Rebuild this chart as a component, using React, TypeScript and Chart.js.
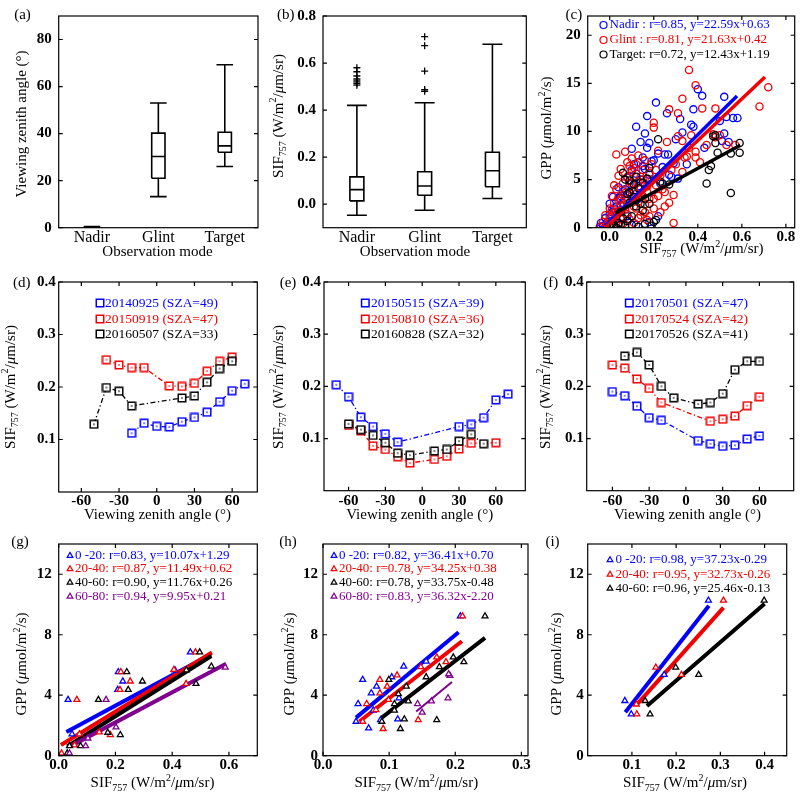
import React, { useEffect, useRef } from "react";
import { Chart, registerables } from "chart.js";
Chart.register(...registerables);

const FONT = "'Liberation Serif', 'Times New Roman', serif";
const BLUE = "#0000ff";
const RED = "#f00000";
const BLACK = "#000000";
const PURPLE = "#80008f";

// ---------------- (a) viewing zenith angle by observation mode ----------------
const modeCategories = ["Nadir", "Glint", "Target"];
const vzaTicks = [0, 20, 40, 60, 80];
const vzaMin = [0, 13.2, 26];
const vzaQ1 = [0.05, 21, 32.1];
const vzaMedian = [0.2, 30.3, 34.8];
const vzaQ3 = [0.4, 40.2, 40.6];
const vzaMax = [0.5, 53, 69.3];

// ---------------- (b) SIF by observation mode ----------------
const sifTicksB = [0, 0.2, 0.4, 0.6, 0.8];
const sifMin = [-0.047, -0.026, 0.024];
const sifQ1 = [0.014, 0.038, 0.074];
const sifMedian = [0.062, 0.077, 0.142];
const sifQ3 = [0.116, 0.138, 0.221];
const sifMax = [0.42, 0.431, 0.68];
const sifOutliersNadir = [0.506, 0.513, 0.52, 0.527, 0.533, 0.545, 0.563, 0.58];
const sifOutliersGlint = [0.48, 0.487, 0.566, 0.674, 0.712];

// ---------------- (c) GPP vs SIF ----------------
const cLegend = [
  "Nadir : r=0.85, y=22.59x+0.63",
  "Glint : r=0.81, y=21.63x+0.42",
  "Target: r=0.72, y=12.43x+1.19",
];
const cNadirPts = [
  [-0.045, 0.1], [-0.04, 0.5], [-0.03, 0.2], [-0.02, 1.0], [-0.01, 0.6], [0.0, 2.5], [0.01, 1.6], [0.015, 3.2],
  [0.02, 0.8], [0.03, 2.2], [0.04, 3.1], [0.045, 1.8], [0.05, 3.3], [0.06, 2.6], [0.07, 4.0], [0.08, 1.2],
  [0.08, 5.2], [0.09, 3.6], [0.1, 6.0], [0.1, 8.2], [0.11, 4.5], [0.12, 10.5], [0.12, 5.6], [0.13, 3.0],
  [0.13, 6.8], [0.14, 8.9], [0.14, 5.0], [0.15, 7.3], [0.16, 9.8], [0.16, 6.1], [0.17, 8.3], [0.17, 11.6],
  [0.18, 8.8], [0.18, 5.5], [0.19, 6.9], [0.2, 7.0], [0.21, 13.0], [0.22, 7.7], [0.23, 4.6], [0.24, 6.3],
  [0.25, 7.6], [0.26, 11.9], [0.265, 7.6], [0.27, 5.5], [0.28, 5.3], [0.29, 6.7], [0.3, 9.2], [0.31, 5.1],
  [0.32, 11.3], [0.33, 9.9], [0.35, 6.6], [0.37, 10.7], [0.38, 12.3], [0.38, 10.5], [0.4, 14.4], [0.42, 13.7],
  [0.43, 8.3], [0.5, 11.1], [0.52, 13.6], [0.52, 9.8], [0.51, 9.0], [0.53, 11.5], [0.54, 8.9], [0.56, 11.4],
  [0.58, 11.4], [0.12, 0.3], [0.18, 0.6], [0.22, 1.2], [0.02, 2.0], [0.03, 1.0], [0.05, 2.3], [0.06, 3.8],
  [0.07, 2.9], [0.09, 4.6], [0.1, 3.3], [0.11, 6.6], [0.13, 4.3], [0.15, 6.4], [0.0, 1.4], [0.04, 4.2],
];
const cGlintPts = [
  [-0.04, 0.1], [-0.03, 0.6], [-0.02, 1.3], [-0.01, 0.4], [0.0, 2.0], [0.0, 1.1], [0.01, 3.3], [0.02, 0.7],
  [0.02, 2.6], [0.03, 7.6], [0.03, 4.0], [0.04, 1.7], [0.04, 5.4], [0.05, 3.0], [0.05, 0.9], [0.06, 4.6],
  [0.06, 2.2], [0.07, 7.9], [0.07, 3.6], [0.08, 5.3], [0.08, 1.4], [0.09, 4.2], [0.09, 6.4], [0.1, 7.2],
  [0.1, 2.8], [0.1, 5.8], [0.11, 3.9], [0.11, 0.5], [0.12, 6.6], [0.12, 2.0], [0.13, 4.8], [0.13, 7.5],
  [0.14, 5.3], [0.14, 1.3], [0.15, 3.3], [0.15, 6.0], [0.16, 2.4], [0.16, 7.0], [0.17, 4.3], [0.17, 0.8],
  [0.18, 5.7], [0.18, 3.0], [0.19, 6.6], [0.2, 10.9], [0.2, 10.4], [0.2, 2.0], [0.21, 4.4], [0.22, 8.0],
  [0.22, 3.3], [0.23, 5.4], [0.24, 4.0], [0.25, 3.7], [0.25, 2.2], [0.26, 8.9], [0.27, 12.3], [0.27, 2.6],
  [0.28, 6.0], [0.29, 3.4], [0.29, 0.5], [0.3, 6.6], [0.31, 9.5], [0.31, 11.9], [0.33, 9.0], [0.33, 13.4],
  [0.33, 5.8], [0.34, 7.3], [0.35, 7.4], [0.36, 16.4], [0.36, 8.3], [0.37, 9.6], [0.39, 14.8], [0.39, 7.9],
  [0.39, 7.3], [0.41, 6.8], [0.42, 12.4], [0.44, 8.6], [0.47, 9.7], [0.48, 12.4], [0.48, 9.4], [0.5, 9.6],
  [0.53, 8.6], [0.57, 8.6], [0.68, 12.6], [0.72, 14.6],
  [0.0, 0.3], [0.01, 1.9], [0.02, 4.4], [0.03, 1.2], [0.04, 2.8], [0.05, 6.1], [0.06, 0.4], [0.07, 1.9],
  [0.08, 2.5], [0.08, 6.8], [0.09, 0.9], [0.1, 4.6], [0.11, 2.2], [0.11, 6.2], [0.12, 3.5], [0.13, 1.0],
  [0.13, 2.7], [0.14, 4.0], [0.15, 5.0], [0.16, 1.6], [0.17, 3.7], [0.18, 1.2], [0.19, 4.9], [0.2, 3.0],
  [0.21, 6.0], [0.23, 1.6], [0.06, 3.4], [0.04, 0.2], [0.02, 1.6], [0.09, 5.4],
];
const cTargetPts = [
  [0.0, 0.1], [0.01, 0.4], [0.02, 0.2], [0.03, 0.0], [0.04, 0.5], [0.05, 0.3], [0.06, 1.0], [0.06, 5.7],
  [0.07, 5.0], [0.07, 0.2], [0.08, 3.5], [0.08, 0.7], [0.09, 3.7], [0.09, 2.6], [0.1, 0.3], [0.1, 1.2],
  [0.11, 4.5], [0.12, 5.3], [0.12, 2.2], [0.13, 0.1], [0.14, 2.5], [0.15, 4.7], [0.15, 1.8], [0.16, 0.4],
  [0.17, 5.1], [0.18, 6.2], [0.18, 2.5], [0.19, 0.2], [0.2, 0.6], [0.21, 0.8], [0.22, 9.2], [0.23, 4.8],
  [0.24, 4.6], [0.27, 4.5], [0.44, 4.6], [0.45, 6.0], [0.46, 6.4], [0.47, 9.5], [0.48, 8.8], [0.49, 7.8],
  [0.48, 9.6], [0.55, 3.6], [0.55, 7.7], [0.59, 8.8], [0.59, 7.8],
  [0.05, 1.6], [0.11, 3.2], [0.13, 4.1], [0.16, 3.0], [0.09, 4.9],
];
const cFitNadir = [[-0.02, 0.18], [0.578, 13.69]];
const cFitGlint = [[-0.02, -0.01], [0.705, 15.67]];
const cFitTarget = [[0.027, 1.53], [0.593, 8.56]];

// ---------------- (d)(e)(f) SIF vs viewing zenith angle ----------------
const vzaAxisTicks = [-60, -30, 0, 30, 60];
const sifTicksDEF = [0.1, 0.2, 0.3, 0.4];
const dLegend = ["20140925 (SZA=49)", "20150919 (SZA=47)", "20160507 (SZA=33)"];
const dBlueX = [-20, -10, 0, 10, 20, 30, 40, 50, 60, 70];
const dBlueY = [0.112, 0.131, 0.125, 0.124, 0.134, 0.142, 0.152, 0.172, 0.193, 0.206];
const dRedX = [-40, -30, -20, -10, 10, 20, 30, 40, 50, 60];
const dRedY = [0.252, 0.242, 0.237, 0.237, 0.202, 0.201, 0.207, 0.23, 0.249, 0.257];
const dBlackX = [-50, -40, -30, -20, 20, 30, 40, 50, 60];
const dBlackY = [0.129, 0.199, 0.192, 0.164, 0.179, 0.183, 0.209, 0.235, 0.249];

const eLegend = ["20150515 (SZA=39)", "20150810 (SZA=36)", "20160828 (SZA=32)"];
const eBlueX = [-70, -60, -50, -40, -30, -20, 30, 40, 50, 60, 70];
const eBlueY = [0.203, 0.18, 0.141, 0.123, 0.109, 0.093, 0.123, 0.127, 0.14, 0.174, 0.185];
const eRedX = [-60, -50, -40, -30, -20, -10, 10, 20, 30, 40, 60];
const eRedY = [0.125, 0.115, 0.086, 0.079, 0.065, 0.053, 0.06, 0.066, 0.08, 0.091, 0.092];
const eBlackX = [-60, -50, -40, -30, -20, -10, 10, 20, 30, 40, 50];
const eBlackY = [0.128, 0.117, 0.106, 0.092, 0.072, 0.068, 0.076, 0.079, 0.095, 0.108, 0.09];

const fLegend = ["20170501 (SZA=47)", "20170524 (SZA=42)", "20170526 (SZA=41)"];
const fBlueX = [-60, -50, -40, -30, -20, 10, 20, 30, 40, 50, 60];
const fBlueY = [0.19, 0.182, 0.162, 0.14, 0.135, 0.096, 0.09, 0.085, 0.087, 0.099, 0.105];
const fRedX = [-60, -50, -40, -30, -20, 20, 30, 40, 50, 60];
const fRedY = [0.241, 0.235, 0.214, 0.196, 0.169, 0.133, 0.137, 0.143, 0.163, 0.18];
const fBlackX = [-50, -40, -30, -20, -10, 10, 20, 30, 40, 50, 60];
const fBlackY = [0.258, 0.265, 0.241, 0.2, 0.178, 0.166, 0.169, 0.186, 0.232, 0.248, 0.248];

// ---------------- (g)(h)(i) GPP vs SIF by VZA group ----------------
const gppTicks = [0, 4, 8, 12];
const gLegend = [
  "0 -20: r=0.83, y=10.07x+1.29",
  "20-40: r=0.87, y=11.49x+0.62",
  "40-60: r=0.90, y=11.76x+0.26",
  "60-80: r=0.94, y=9.95x+0.21",
];
const g0_20 = [[0.033, 3.7], [0.047, 1.43], [0.208, 4.36], [0.21, 5.54], [0.226, 4.92], [0.41, 5.65], [0.464, 6.84]];
const g20_40 = [[0.01, 0.16], [0.056, 0.7], [0.064, 3.7], [0.073, 1.43], [0.143, 1.55], [0.182, 1.38], [0.216, 4.36],
  [0.219, 5.54], [0.252, 4.92], [0.406, 5.69], [0.449, 4.76], [0.482, 6.84]];
const g40_60 = [[0.03, 0.16], [0.038, 0.64], [0.077, 0.64], [0.14, 3.7], [0.173, 1.53], [0.217, 1.38], [0.245, 4.36],
  [0.24, 5.54], [0.295, 4.92], [0.45, 5.66], [0.484, 4.76], [0.497, 6.84], [0.538, 5.91]];
const g60_80 = [[0.038, 0.16], [0.095, 0.64], [0.103, 1.15], [0.167, 3.7], [0.202, 1.88], [0.587, 5.84]];
const gFit0_20 = [[0.027, 1.56], [0.537, 6.7]];
const gFit20_40 = [[0.008, 0.71], [0.54, 6.82]];
const gFit40_60 = [[0.03, 0.61], [0.538, 6.59]];
const gFit60_80 = [[0.044, 0.65], [0.59, 6.08]];

const hLegend = [
  "0 -20: r=0.82, y=36.41x+0.70",
  "20-40: r=0.78, y=34.25x+0.38",
  "40-60: r=0.78, y=33.75x-0.48",
  "60-80: r=0.83, y=36.32x-2.20",
];
const h0_20 = [[0.05, 2.26], [0.053, 3.43], [0.06, 5.03], [0.069, 1.82], [0.073, 4.14], [0.076, 3.0], [0.081, 4.58],
  [0.087, 2.37], [0.104, 5.2], [0.113, 2.42], [0.115, 3.81], [0.122, 5.91], [0.156, 6.24], [0.2076, 9.23]];
const h20_40 = [[0.06, 2.26], [0.066, 3.43], [0.08, 3.03], [0.086, 4.14], [0.086, 5.03], [0.091, 1.78], [0.097, 4.58],
  [0.099, 3.7], [0.112, 5.32], [0.144, 2.37], [0.148, 5.87], [0.172, 6.51], [0.186, 6.2], [0.211, 9.23]];
const h40_60 = [[0.089, 2.26], [0.0995, 5.03], [0.108, 3.43], [0.108, 3.0], [0.114, 4.08], [0.117, 1.78], [0.123, 2.42],
  [0.126, 4.58], [0.129, 3.6], [0.156, 5.2], [0.172, 2.37], [0.176, 5.87], [0.197, 6.51], [0.213, 6.2], [0.245, 9.23]];
const h60_80 = [[0.143, 3.43], [0.15, 2.86], [0.164, 3.6], [0.189, 3.81], [0.192, 5.29], [0.19, 5.4]];
const hFit0_20 = [[0.05, 2.52], [0.205, 8.16]];
const hFit20_40 = [[0.055, 2.26], [0.21, 7.57]];
const hFit40_60 = [[0.088, 2.49], [0.245, 7.79]];
const hFit60_80 = [[0.141, 2.92], [0.195, 4.88]];

const iLegend = [
  "0 -20: r=0.98, y=37.23x-0.29",
  "20-40: r=0.95, y=32.73x-0.26",
  "40-60: r=0.96, y=25.46x-0.13",
];
const i0_20 = [[0.084, 3.63], [0.0985, 2.75], [0.173, 5.36], [0.273, 10.27]];
const i20_40 = [[0.111, 2.75], [0.11, 3.4], [0.154, 5.84], [0.212, 5.36], [0.307, 10.27]];
const i40_60 = [[0.13, 3.63], [0.141, 2.75], [0.199, 5.84], [0.251, 5.36], [0.399, 10.27]];
const iFit0_20 = [[0.085, 2.87], [0.274, 9.91]];
const iFit20_40 = [[0.11, 3.34], [0.307, 9.79]];
const iFit40_60 = [[0.134, 3.28], [0.4, 10.05]];

// ---------------- text helpers ----------------
type Seg = { t: string; sub?: boolean; sup?: boolean; it?: boolean };
const SIF_TITLE: Seg[] = [{ t: "SIF" }, { t: "757", sub: true }, { t: " (W/m" }, { t: "2", sup: true }, { t: "/" }, { t: "\u03bc", it: true }, { t: "m/sr)" }];
const GPP_TITLE: Seg[] = [{ t: "GPP (" }, { t: "\u03bc", it: true }, { t: "mol/m" }, { t: "2", sup: true }, { t: "/s)" }];
const VZA_TITLE: Seg[] = [{ t: "Viewing zenith angle (\u00b0)" }];
const OBS_TITLE: Seg[] = [{ t: "Observation mode" }];

function drawRich(ctx: CanvasRenderingContext2D, segs: Seg[], x: number, y: number, size: number, color: string, rotate = false, align: "center" | "left" = "center") {
  ctx.save();
  ctx.translate(x, y);
  if (rotate) ctx.rotate(-Math.PI / 2);
  const fontFor = (s: Seg) => `${s.it ? "italic " : ""}${s.sub || s.sup ? Math.round(size * 0.68) : size}px ${FONT}`;
  let total = 0;
  const widths = segs.map((s) => {
    ctx.font = fontFor(s);
    const w = ctx.measureText(s.t).width;
    total += w;
    return w;
  });
  let cx = align === "center" ? -total / 2 : 0;
  ctx.fillStyle = color;
  ctx.textBaseline = "middle";
  ctx.textAlign = "left";
  segs.forEach((s, k) => {
    ctx.font = fontFor(s);
    const dy = s.sub ? size * 0.32 : s.sup ? -size * 0.36 : 0;
    ctx.fillText(s.t, cx, dy);
    cx += widths[k];
  });
  ctx.restore();
}

function squareImage(color: string) {
  const c = document.createElement("canvas");
  c.width = 10;
  c.height = 10;
  const g = c.getContext("2d")!;
  g.fillStyle = "#fff";
  g.fillRect(1, 1, 8, 8);
  g.strokeStyle = color;
  g.lineWidth = 1.5;
  g.strokeRect(1.25, 1.25, 7.5, 7.5);
  g.fillStyle = color;
  g.fillRect(4.3, 4.3, 1.4, 1.4);
  return c;
}

type Marker = "circle" | "square" | "triangle";
type LegendSpec = { marker: Marker; texts: string[]; colors: string[]; mx: number; tx: number; ys: number[]; size: number };

type PanelSpec = {
  id: string;
  label: string;
  labelPos: [number, number];
  canvas: [number, number, number, number];
  plot: [number, number, number, number];
  xMin: number; xMax: number; xTicks: number[]; xLabels: string[]; xTickMarks: boolean; xLabOff: number; xLabFont: string;
  yMin: number; yMax: number; yTicks: number[]; yLabels: string[]; yGap: number;
  xTitle: Seg[]; xTitlePos: [number, number];
  yTitle: Seg[]; yTitlePos: [number, number];
  legend?: LegendSpec;
  datasets: any[];
};

const NUM_FONT = `bold 15px ${FONT}`;
const CAT_FONT = `16px ${FONT}`;

function makeDecor(spec: PanelSpec) {
  return {
    id: "decor_" + spec.id,
    afterDraw(chart: any) {
      const ctx: CanvasRenderingContext2D = chart.ctx;
      const { left, right, top, bottom } = chart.chartArea;
      const xs = chart.scales.x;
      const ys = chart.scales.y;
      const ox = spec.canvas[0];
      const oy = spec.canvas[1];
      const TL = 4;
      ctx.save();
      ctx.strokeStyle = "#000";
      ctx.lineWidth = 1.2;
      ctx.strokeRect(left, top, right - left, bottom - top);
      ctx.beginPath();
      spec.yTicks.forEach((v) => {
        const py = ys.getPixelForValue(v);
        ctx.moveTo(left, py); ctx.lineTo(left + TL, py);
        ctx.moveTo(right - TL, py); ctx.lineTo(right, py);
      });
      if (spec.xTickMarks) {
        spec.xTicks.forEach((v) => {
          const px = xs.getPixelForValue(v);
          ctx.moveTo(px, bottom); ctx.lineTo(px, bottom - TL);
          ctx.moveTo(px, top); ctx.lineTo(px, top + TL);
        });
      }
      ctx.stroke();
      // tick labels
      ctx.fillStyle = "#000";
      ctx.font = NUM_FONT;
      ctx.textAlign = "right";
      ctx.textBaseline = "middle";
      spec.yTicks.forEach((v, k) => {
        ctx.fillText(spec.yLabels[k], left - spec.yGap, ys.getPixelForValue(v));
      });
      ctx.font = spec.xLabFont;
      ctx.textAlign = "center";
      spec.xTicks.forEach((v, k) => {
        if (spec.xLabels[k]) ctx.fillText(spec.xLabels[k], xs.getPixelForValue(v), bottom + spec.xLabOff);
      });
      // titles
      drawRich(ctx, spec.xTitle, spec.xTitlePos[0] - ox, spec.xTitlePos[1] - oy, 15, "#000");
      drawRich(ctx, spec.yTitle, spec.yTitlePos[0] - ox, spec.yTitlePos[1] - oy, 15, "#000", true);
      // panel label
      ctx.font = `15px ${FONT}`;
      ctx.textAlign = "center";
      ctx.textBaseline = "middle";
      ctx.fillStyle = "#000";
      ctx.fillText(spec.label, spec.labelPos[0] - ox, spec.labelPos[1] - oy);
      // legend
      const lg = spec.legend;
      if (lg) {
        lg.texts.forEach((t, k) => {
          const mx = lg.mx - ox;
          const my = lg.ys[k] - oy;
          const col = lg.colors[k];
          ctx.strokeStyle = col;
          ctx.lineWidth = lg.marker === "square" ? 1.5 : 1.2;
          if (lg.marker === "circle") {
            ctx.beginPath();
            ctx.arc(mx, my, 3.5, 0, Math.PI * 2);
            ctx.stroke();
          } else if (lg.marker === "square") {
            ctx.strokeRect(mx - 3.75, my - 3.75, 7.5, 7.5);
          } else {
            const r = 3.3;
            ctx.beginPath();
            ctx.moveTo(mx, my - r);
            ctx.lineTo(mx + r * 0.866, my + r * 0.5);
            ctx.lineTo(mx - r * 0.866, my + r * 0.5);
            ctx.closePath();
            ctx.stroke();
          }
          drawRich(ctx, [{ t }], lg.tx - ox, my, lg.size, col, false, "left");
        });
      }
      ctx.restore();
    },
  };
}

const xy = (arr: number[][]) => arr.map(([x, y]) => ({ x, y }));
const zipXY = (xs: number[], ys: number[]) => xs.map((x, k) => ({ x, y: ys[k] }));

function boxLines(mins: number[], q1: number[], med: number[], q3: number[], maxs: number[], bh: number, ch: number) {
  const d: any[] = [];
  mins.forEach((_, k) => {
    const x = k + 1;
    const brk = { x, y: null };
    d.push({ x, y: mins[k] }, { x, y: q1[k] }, brk);
    d.push({ x, y: q3[k] }, { x, y: maxs[k] }, brk);
    d.push({ x: x - ch, y: mins[k] }, { x: x + ch, y: mins[k] }, brk);
    d.push({ x: x - ch, y: maxs[k] }, { x: x + ch, y: maxs[k] }, brk);
    d.push({ x: x - bh, y: q1[k] }, { x: x + bh, y: q1[k] }, { x: x + bh, y: q3[k] }, { x: x - bh, y: q3[k] }, { x: x - bh, y: q1[k] }, brk);
    d.push({ x: x - bh, y: med[k] }, { x: x + bh, y: med[k] }, brk);
  });
  return {
    data: d, showLine: true, borderColor: "#000", borderWidth: 1.6, pointRadius: 0, spanGaps: false, order: 2,
  };
}

const scatterSet = (data: any[], color: string, style: string, r: number, order: number, fill = "rgba(0,0,0,0)") => ({
  data, showLine: false, pointStyle: style, pointRadius: r, pointBorderColor: color, pointBackgroundColor: fill,
  pointBorderWidth: 1.3, borderColor: color, backgroundColor: fill, order,
});
const fitSet = (data: any[], color: string, width: number, order: number) => ({
  data, showLine: true, borderColor: color, borderWidth: width, pointRadius: 0, order,
});
const dashSet = (data: any[], color: string, img: HTMLCanvasElement, order: number) => ({
  data, showLine: true, borderColor: color, borderWidth: 1.3, borderDash: [5, 2.5, 1.3, 2.5],
  pointStyle: img, pointRadius: 5, order,
});

function buildPanels(): PanelSpec[] {
  const sqB = squareImage(BLUE), sqR = squareImage(RED), sqK = squareImage(BLACK);
  const numFmt1 = (a: number[]) => a.map((v) => v.toFixed(1));
  const numFmt0 = (a: number[]) => a.map((v) => String(v));
  const threeCols = [BLUE, RED, BLACK];
  const fourCols = [BLUE, RED, BLACK, PURPLE];
  return [
    {
      id: "a", label: "(a)", labelPos: [22.5, 15], canvas: [0, 0, 267, 267], plot: [58.7, 16, 258, 227.7],
      xMin: 0.5, xMax: 3.5, xTicks: [1, 2, 3], xLabels: modeCategories, xTickMarks: false, xLabOff: 9.6, xLabFont: CAT_FONT,
      yMin: 0, yMax: 90, yTicks: vzaTicks, yLabels: numFmt0(vzaTicks), yGap: 7,
      xTitle: OBS_TITLE, xTitlePos: [157.5, 252], yTitle: VZA_TITLE, yTitlePos: [21.7, 124],
      datasets: [boxLines(vzaMin, vzaQ1, vzaMedian, vzaQ3, vzaMax, 0.1, 0.125)],
    },
    {
      id: "b", label: "(b)", labelPos: [285.8, 15], canvas: [267, 0, 267, 267], plot: [323, 16, 526.3, 227.7],
      xMin: 0.5, xMax: 3.5, xTicks: [1, 2, 3], xLabels: modeCategories, xTickMarks: false, xLabOff: 9.6, xLabFont: CAT_FONT,
      yMin: -0.1, yMax: 0.8, yTicks: sifTicksB, yLabels: numFmt1(sifTicksB), yGap: 7,
      xTitle: OBS_TITLE, xTitlePos: [415, 252], yTitle: SIF_TITLE, yTitlePos: [278.7, 116],
      datasets: [
        boxLines(sifMin, sifQ1, sifMedian, sifQ3, sifMax, 0.103, 0.147),
        scatterSet([...sifOutliersNadir.map((y) => ({ x: 1, y })), ...sifOutliersGlint.map((y) => ({ x: 2, y }))], "#000", "cross", 3.5, 1),
      ],
    },
    {
      id: "c", label: "(c)", labelPos: [573.8, 15], canvas: [534, 0, 266, 267], plot: [587.7, 16, 795.7, 227.7],
      xMin: -0.1, xMax: 0.84, xTicks: [0, 0.2, 0.4, 0.6, 0.8], xLabels: ["0.0", "0.2", "0.4", "0.6", "0.8"], xTickMarks: true, xLabOff: 9.6, xLabFont: NUM_FONT,
      yMin: 0, yMax: 22, yTicks: [0, 5, 10, 15, 20], yLabels: ["0", "5", "10", "15", "20"], yGap: 7,
      xTitle: SIF_TITLE, xTitlePos: [701.7, 249.5], yTitle: GPP_TITLE, yTitlePos: [547.3, 128],
      legend: { marker: "circle", texts: cLegend, colors: threeCols, mx: 603.5, tx: 609.5, ys: [25, 40, 54.5], size: 13 },
      datasets: [
        scatterSet(xy(cNadirPts), BLUE, "circle", 3.6, 6),
        scatterSet(xy(cGlintPts), RED, "circle", 3.6, 5),
        scatterSet(xy(cTargetPts), BLACK, "circle", 3.6, 4),
        fitSet(xy(cFitNadir), BLUE, 3.5, 2),
        fitSet(xy(cFitGlint), RED, 3.5, 1),
        fitSet(xy(cFitTarget), BLACK, 3.5, 0),
      ],
    },
    {
      id: "d", label: "(d)", labelPos: [21.7, 283], canvas: [0, 267, 267, 267], plot: [58.7, 282, 257.3, 492],
      xMin: -78, xMax: 80, xTicks: vzaAxisTicks, xLabels: numFmt0(vzaAxisTicks), xTickMarks: true, xLabOff: 9.6, xLabFont: NUM_FONT,
      yMin: 0, yMax: 0.4, yTicks: sifTicksDEF, yLabels: numFmt1(sifTicksDEF), yGap: 3,
      xTitle: VZA_TITLE, xTitlePos: [157.5, 515], yTitle: SIF_TITLE, yTitlePos: [10.8, 387],
      legend: { marker: "square", texts: dLegend, colors: threeCols, mx: 100, tx: 105, ys: [303, 319, 334], size: 13.5 },
      datasets: [
        dashSet(zipXY(dBlueX, dBlueY), BLUE, sqB, 2),
        dashSet(zipXY(dRedX, dRedY), RED, sqR, 1),
        dashSet(zipXY(dBlackX, dBlackY), BLACK, sqK, 0),
      ],
    },
    {
      id: "e", label: "(e)", labelPos: [288, 283], canvas: [267, 267, 267, 267], plot: [324, 282, 525.3, 490.7],
      xMin: -80, xMax: 84, xTicks: vzaAxisTicks, xLabels: numFmt0(vzaAxisTicks), xTickMarks: true, xLabOff: 10.6, xLabFont: NUM_FONT,
      yMin: 0, yMax: 0.4, yTicks: sifTicksDEF, yLabels: numFmt1(sifTicksDEF), yGap: 3,
      xTitle: VZA_TITLE, xTitlePos: [419.7, 515], yTitle: SIF_TITLE, yTitlePos: [278.8, 387],
      legend: { marker: "square", texts: eLegend, colors: threeCols, mx: 365.3, tx: 371, ys: [303, 319, 334], size: 13.5 },
      datasets: [
        dashSet(zipXY(eBlueX, eBlueY), BLUE, sqB, 2),
        dashSet(zipXY(eRedX, eRedY), RED, sqR, 1),
        dashSet(zipXY(eBlackX, eBlackY), BLACK, sqK, 0),
      ],
    },
    {
      id: "f", label: "(f)", labelPos: [550.8, 283], canvas: [534, 267, 266, 267], plot: [586.7, 282, 795, 490.7],
      xMin: -81, xMax: 88, xTicks: vzaAxisTicks, xLabels: numFmt0(vzaAxisTicks), xTickMarks: true, xLabOff: 10.6, xLabFont: NUM_FONT,
      yMin: 0, yMax: 0.4, yTicks: sifTicksDEF, yLabels: numFmt1(sifTicksDEF), yGap: 3,
      xTitle: VZA_TITLE, xTitlePos: [687.5, 515], yTitle: SIF_TITLE, yTitlePos: [545.8, 387],
      legend: { marker: "square", texts: fLegend, colors: threeCols, mx: 629.3, tx: 635, ys: [303, 319, 334], size: 13.5 },
      datasets: [
        dashSet(zipXY(fBlueX, fBlueY), BLUE, sqB, 2),
        dashSet(zipXY(fRedX, fRedY), RED, sqR, 1),
        dashSet(zipXY(fBlackX, fBlackY), BLACK, sqK, 0),
      ],
    },
    {
      id: "g", label: "(g)", labelPos: [20, 541.7], canvas: [0, 534, 267, 267], plot: [58.7, 544, 257.3, 755.7],
      xMin: 0, xMax: 0.7, xTicks: [0, 0.2, 0.4, 0.6], xLabels: ["0.0", "0.2", "0.4", "0.6"], xTickMarks: true, xLabOff: 9.6, xLabFont: NUM_FONT,
      yMin: 0, yMax: 14, yTicks: gppTicks, yLabels: numFmt0(gppTicks), yGap: 7,
      xTitle: SIF_TITLE, xTitlePos: [152.5, 783.3], yTitle: GPP_TITLE, yTitlePos: [22.3, 664],
      legend: { marker: "triangle", texts: gLegend, colors: fourCols, mx: 70, tx: 75, ys: [555.7, 569, 582.5, 596.5], size: 13 },
      datasets: [
        fitSet(xy(gFit0_20), BLUE, 4, 8),
        fitSet(xy(gFit20_40), RED, 4, 7),
        fitSet(xy(gFit40_60), BLACK, 4, 6),
        fitSet(xy(gFit60_80), PURPLE, 4, 5),
        scatterSet(xy(g0_20), BLUE, "triangle", 3.4, 3, "#fff"),
        scatterSet(xy(g20_40), RED, "triangle", 3.4, 2, "#fff"),
        scatterSet(xy(g40_60), BLACK, "triangle", 3.4, 1, "#fff"),
        scatterSet(xy(g60_80), PURPLE, "triangle", 3.4, 0, "#fff"),
      ],
    },
    {
      id: "h", label: "(h)", labelPos: [288, 541.7], canvas: [267, 534, 267, 267], plot: [323, 544, 528, 755.7],
      xMin: 0, xMax: 0.31, xTicks: [0, 0.1, 0.2, 0.3], xLabels: ["0.0", "0.1", "0.2", "0.3"], xTickMarks: true, xLabOff: 9.6, xLabFont: NUM_FONT,
      yMin: 0, yMax: 14, yTicks: gppTicks, yLabels: numFmt0(gppTicks), yGap: 5,
      xTitle: SIF_TITLE, xTitlePos: [416.3, 783.3], yTitle: GPP_TITLE, yTitlePos: [290.3, 664],
      legend: { marker: "triangle", texts: hLegend, colors: fourCols, mx: 334, tx: 339, ys: [555.7, 569, 582.5, 596.5], size: 13 },
      datasets: [
        fitSet(xy(hFit0_20), BLUE, 4, 8),
        fitSet(xy(hFit20_40), RED, 4, 7),
        fitSet(xy(hFit40_60), BLACK, 4, 6),
        fitSet(xy(hFit60_80), PURPLE, 2, 5),
        scatterSet(xy(h0_20), BLUE, "triangle", 3.4, 3, "#fff"),
        scatterSet(xy(h20_40), RED, "triangle", 3.4, 2, "#fff"),
        scatterSet(xy(h40_60), BLACK, "triangle", 3.4, 1, "#fff"),
        scatterSet(xy(h60_80), PURPLE, "triangle", 3.4, 0, "#fff"),
      ],
    },
    {
      id: "i", label: "(i)", labelPos: [552.5, 541.7], canvas: [534, 534, 266, 267], plot: [587.7, 544, 786.7, 755.7],
      xMin: 0, xMax: 0.45, xTicks: [0.1, 0.2, 0.3, 0.4], xLabels: ["0.1", "0.2", "0.3", "0.4"], xTickMarks: true, xLabOff: 9.6, xLabFont: NUM_FONT,
      yMin: 0, yMax: 14, yTicks: gppTicks, yLabels: numFmt0(gppTicks), yGap: 4,
      xTitle: SIF_TITLE, xTitlePos: [685, 783.3], yTitle: GPP_TITLE, yTitlePos: [557.3, 664],
      legend: { marker: "triangle", texts: iLegend, colors: threeCols, mx: 610, tx: 615.5, ys: [560, 574.5, 588.5], size: 13 },
      datasets: [
        fitSet(xy(iFit0_20), BLUE, 4, 8),
        fitSet(xy(iFit20_40), RED, 4, 7),
        fitSet(xy(iFit40_60), BLACK, 4, 6),
        scatterSet(xy(i0_20), BLUE, "triangle", 3.4, 3, "#fff"),
        scatterSet(xy(i20_40), RED, "triangle", 3.4, 2, "#fff"),
        scatterSet(xy(i40_60), BLACK, "triangle", 3.4, 1, "#fff"),
      ],
    },
  ];
}

function buildConfig(spec: PanelSpec): any {
  const [cx, cy, cw, ch] = spec.canvas;
  const [L, T, R, B] = spec.plot;
  const hidden = { display: false, drawTicks: false };
  return {
    type: "scatter",
    data: { datasets: spec.datasets },
    options: {
      responsive: false,
      maintainAspectRatio: false,
      animation: false,
      events: [],
      layout: { padding: { left: 0, top: T - cy, right: cx + cw - R, bottom: 0 } },
      plugins: { legend: { display: false }, tooltip: { enabled: false }, title: { display: false } },
      scales: {
        x: {
          type: "linear", min: spec.xMin, max: spec.xMax, grid: hidden, border: { display: false }, ticks: { display: false },
          afterFit: (s: any) => { s.height = cy + ch - B; s.paddingLeft = 0; s.paddingRight = 0; s.paddingTop = 0; s.paddingBottom = 0; },
        },
        y: {
          type: "linear", min: spec.yMin, max: spec.yMax, grid: hidden, border: { display: false }, ticks: { display: false },
          afterFit: (s: any) => { s.width = L - cx; s.paddingLeft = 0; s.paddingRight = 0; s.paddingTop = 0; s.paddingBottom = 0; },
        },
      },
    },
    plugins: [makeDecor(spec)],
  };
}

const CANVASES: [number, number, number, number][] = [
  [0, 0, 267, 267], [267, 0, 267, 267], [534, 0, 266, 267],
  [0, 267, 267, 267], [267, 267, 267, 267], [534, 267, 266, 267],
  [0, 534, 267, 267], [267, 534, 267, 267], [534, 534, 266, 267],
];

export default function App() {
  const refs = useRef<(HTMLCanvasElement | null)[]>([]);
  useEffect(() => {
    const panels = buildPanels();
    const charts = panels.map((p, k) => new Chart(refs.current[k]!, buildConfig(p)));
    return () => charts.forEach((c) => c.destroy());
  }, []);
  return (
    <div style={{ position: "absolute", left: 0, top: 0, width: 800, height: 801, background: "#fff" }}>
      {CANVASES.map((c, k) => (
        <canvas
          key={k}
          ref={(el) => { refs.current[k] = el; }}
          width={c[2]}
          height={c[3]}
          style={{ position: "absolute", left: c[0], top: c[1], width: c[2], height: c[3] }}
        />
      ))}
    </div>
  );
}
